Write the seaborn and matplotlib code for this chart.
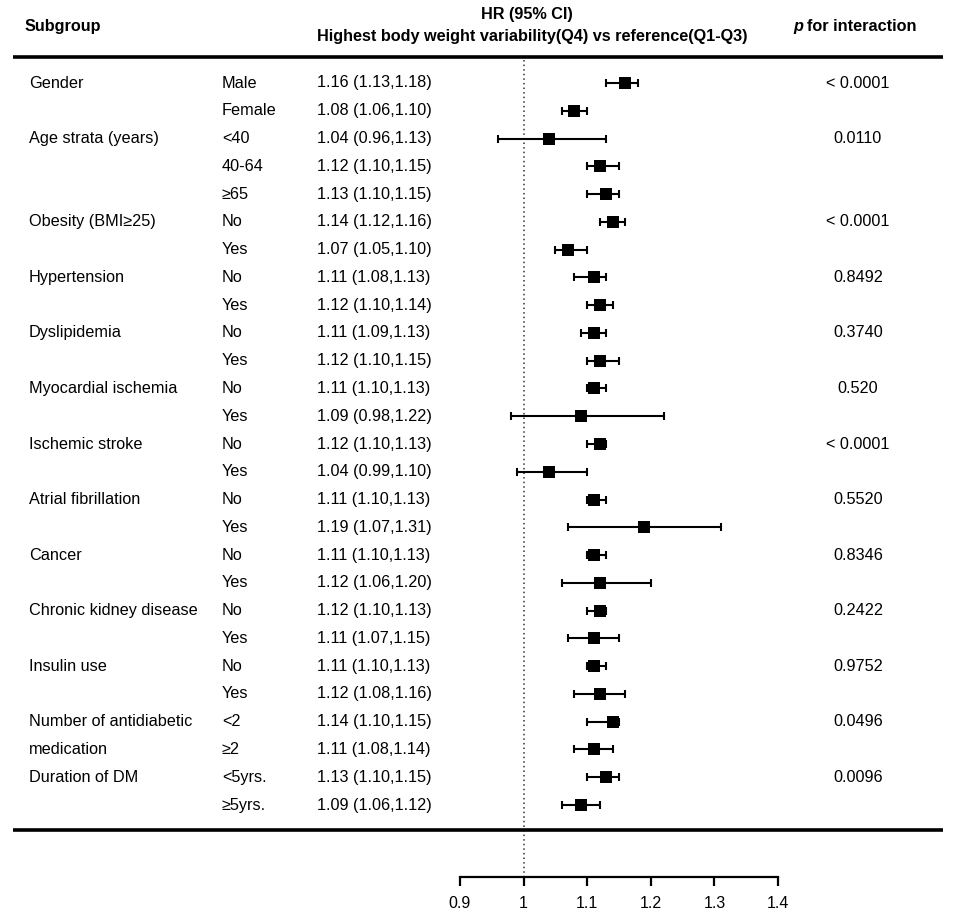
import numpy as np
import pandas as pd
import matplotlib
matplotlib.use("Agg")
import matplotlib.pyplot as plt
import seaborn as sns
from matplotlib.transforms import blended_transform_factory

# ---------------- data ----------------
group_labels = ["Gender", "", "Age strata (years)", "", "", "Obesity (BMI≥25)", "",
                "Hypertension", "", "Dyslipidemia", "", "Myocardial ischemia", "",
                "Ischemic stroke", "", "Atrial fibrillation", "", "Cancer", "",
                "Chronic kidney disease", "", "Insulin use", "",
                "Number of antidiabetic", "medication", "Duration of DM", ""]
subgroups = ["Male", "Female", "<40", "40-64", "≥65", "No", "Yes",
             "No", "Yes", "No", "Yes", "No", "Yes", "No", "Yes", "No", "Yes",
             "No", "Yes", "No", "Yes", "No", "Yes", "<2", "≥2", "<5yrs.", "≥5yrs."]
hr = [1.16, 1.08, 1.04, 1.12, 1.13, 1.14, 1.07, 1.11, 1.12, 1.11, 1.12, 1.11, 1.09,
      1.12, 1.04, 1.11, 1.19, 1.11, 1.12, 1.12, 1.11, 1.11, 1.12, 1.14, 1.11, 1.13, 1.09]
ci_low = [1.13, 1.06, 0.96, 1.10, 1.10, 1.12, 1.05, 1.08, 1.10, 1.09, 1.10, 1.10, 0.98,
          1.10, 0.99, 1.10, 1.07, 1.10, 1.06, 1.10, 1.07, 1.10, 1.08, 1.10, 1.08, 1.10, 1.06]
ci_high = [1.18, 1.10, 1.13, 1.15, 1.15, 1.16, 1.10, 1.13, 1.14, 1.13, 1.15, 1.13, 1.22,
           1.13, 1.10, 1.13, 1.31, 1.13, 1.20, 1.13, 1.15, 1.13, 1.16, 1.15, 1.14, 1.15, 1.12]
p_interaction = ["< 0.0001", "", "0.0110", "", "", "< 0.0001", "", "0.8492", "",
                 "0.3740", "", "0.520", "", "< 0.0001", "", "0.5520", "", "0.8346", "",
                 "0.2422", "", "0.9752", "", "0.0496", "", "0.0096", ""]
xticks = [0.9, 1.0, 1.1, 1.2, 1.3, 1.4]
xtick_labels = ["0.9", "1", "1.1", "1.2", "1.3", "1.4"]

df = pd.DataFrame({"group": group_labels, "sub": subgroups, "hr": hr,
                   "lo": ci_low, "hi": ci_high, "p": p_interaction})
df["row"] = np.arange(len(df))
df["label"] = [f"{h:.2f} ({l:.2f},{u:.2f})" for h, l, u in zip(df.hr, df.lo, df.hi)]

# ---------------- style ----------------
sns.set_style("white")
plt.rcParams["font.family"] = ["Liberation Sans", "DejaVu Sans"]
plt.rcParams["text.color"] = "black"
plt.rcParams["xtick.color"] = "black"
plt.rcParams["xtick.labelcolor"] = "black"

W, H = 957, 918
fig = plt.figure(figsize=(W / 100, H / 100), dpi=100)

ROW0, STEP = 83.0, 27.77       # pixel y of first row, row spacing
AX_BOTTOM = 877.0              # pixel y of x axis line
X_LEFT, X_RIGHT = 460.0, 778.0


def ky(p):
    return (p - ROW0) / STEP


ax = fig.add_axes([X_LEFT / W, (H - AX_BOTTOM) / H, (X_RIGHT - X_LEFT) / W, AX_BOTTOM / H])
ax.set_facecolor("none")

# CI lines
ax.errorbar(df["hr"], df["row"], xerr=[df["hr"] - df["lo"], df["hi"] - df["hr"]],
            fmt="none", ecolor="black", elinewidth=1.5, capsize=3.0, capthick=1.5, zorder=2)
# point estimates
sns.scatterplot(data=df, x="hr", y="row", marker="s", s=64, color="black",
                edgecolor="black", linewidth=0, ax=ax, zorder=3, legend=False)

# reference line
ax.vlines(1.0, ky(60), ky(AX_BOTTOM), colors="#333333", linestyles=(0, (1, 2)), lw=1.1, zorder=1)

ax.set_xlim(xticks[0], xticks[-1])
ax.set_ylim(ky(AX_BOTTOM), ky(0))
ax.set_xlabel("")
ax.set_ylabel("")
ax.set_yticks([])
ax.set_xticks(xticks)
ax.set_xticklabels(xtick_labels)
for s in ["top", "left", "right"]:
    ax.spines[s].set_visible(False)
ax.spines["bottom"].set_linewidth(1.6)
ax.spines["bottom"].set_color("black")
ax.tick_params(axis="x", bottom=True, direction="out", length=6.7, width=1.6, pad=7,
               labelsize=11.5, colors="black")

trans = blended_transform_factory(fig.transFigure, ax.transData)
FS = 11.7

# table columns
for _, r in df.iterrows():
    y = r["row"]
    if r["group"]:
        ax.text(29 / W, y, r["group"], transform=trans, ha="left", va="center", fontsize=FS)
    ax.text(222 / W, y, r["sub"], transform=trans, ha="left", va="center", fontsize=FS)
    ax.text(317 / W, y, r["label"], transform=trans, ha="left", va="center", fontsize=FS)
    if r["p"]:
        ax.text(858 / W, y, r["p"], transform=trans, ha="center", va="center", fontsize=FS)

# header
ax.text(25 / W, ky(27), "Subgroup", transform=trans, ha="left", va="center",
        fontsize=FS, fontweight="bold")
ax.text(527 / W, ky(15), "HR (95% CI)", transform=trans, ha="center", va="center",
        fontsize=FS, fontweight="bold")
ax.text(532 / W, ky(37), "Highest body weight variability(Q4) vs reference(Q1-Q3)",
        transform=trans, ha="center", va="center", fontsize=FS, fontweight="bold")
ax.text(793 / W, ky(31), "p", transform=trans, ha="left", va="baseline",
        fontsize=FS, fontweight="bold", fontstyle="italic")
ax.text(807 / W, ky(31), "for interaction", transform=trans, ha="left", va="baseline",
        fontsize=FS, fontweight="bold")

# horizontal rules
ax.plot([13 / W, 943 / W], [ky(57), ky(57)], transform=trans, color="black",
        lw=2.6, clip_on=False, solid_capstyle="butt")
ax.plot([13 / W, 943 / W], [ky(830), ky(830)], transform=trans, color="black",
        lw=2.6, clip_on=False, solid_capstyle="butt")

fig.savefig("out.png", dpi=100)
